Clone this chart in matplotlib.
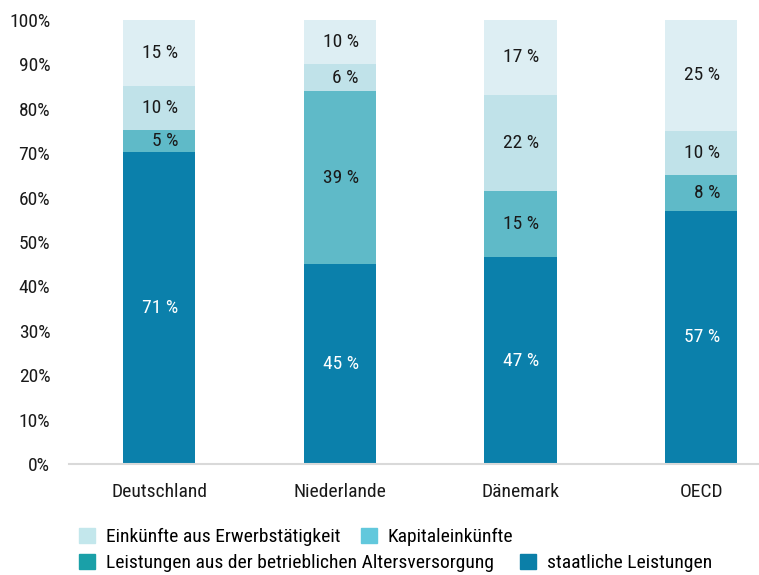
import matplotlib.pyplot as plt
from matplotlib.patches import Patch

plt.rcParams['font.family'] = ['Roboto Condensed', 'DejaVu Sans']

laender = ['Deutschland', 'Niederlande', 'Dänemark', 'OECD']
staatlich = [71, 45, 47, 57]
betrieblich = [5, 39, 15, 8]
kapital = [10, 6, 22, 10]
erwerb = [15, 10, 17, 25]

serien = [staatlich, betrieblich, kapital, erwerb]
bar_farben = ['#0b80ab', '#5fbac8', '#c0e2e9', '#ddeef3']
text_farben = ['white', '#1a1a1a', '#1a1a1a', '#1a1a1a']
fs = 14

fig = plt.figure(figsize=(7.59, 5.75), dpi=100)
ax = fig.add_axes([69 / 759, 1 - 464 / 575, 1 - 69 / 759, (464 - 20) / 575])

x = range(len(laender))
summen = [sum(s[i] for s in serien) for i in x]
unten = [0.0] * len(laender)
for werte, farbe, tf in zip(serien, bar_farben, text_farben):
    hoehe = [w / summen[i] * 100 for i, w in enumerate(werte)]
    ax.bar(x, hoehe, 0.4, bottom=unten, color=farbe, linewidth=0)
    for i, (h, w) in enumerate(zip(hoehe, werte)):
        ax.text(i + 0.105, unten[i] + h / 2, f'{w} %', ha='right', va='center',
                fontsize=fs, color=tf)
    unten = [u + h for u, h in zip(unten, hoehe)]

ax.set_ylim(0, 100)
ax.set_xlim(-0.5, 3.32)
ax.set_yticks(range(0, 101, 10))
ax.set_yticklabels([f'{t}%' for t in range(0, 101, 10)])
ax.set_xticks(list(x))
ax.set_xticklabels(laender)
ax.tick_params(axis='both', length=0, labelsize=fs, colors='#1a1a1a')
ax.tick_params(axis='y', pad=13.5)
ax.tick_params(axis='x', pad=14)
for s in ['top', 'right', 'left']:
    ax.spines[s].set_visible(False)
ax.spines['bottom'].set_color('#d9d9d9')
ax.spines['bottom'].set_linewidth(1.5)

leg_kw = dict(frameon=False, fontsize=fs, handlelength=0.82, handleheight=0.78,
              handletextpad=0.57, ncol=2, loc='center left',
              borderaxespad=0, borderpad=0)
zeile1 = [Patch(color='#c3e7ec', label='Einkünfte aus Erwerbstätigkeit'),
          Patch(color='#62c8dc', label='Kapitaleinkünfte')]
zeile2 = [Patch(color='#1aa0a8', label='Leistungen aus der betrieblichen Altersversorgung'),
          Patch(color='#0b7fa8', label='staatliche Leistungen')]
fig.legend(handles=zeile1, bbox_to_anchor=(79 / 759, 1 - 537 / 575), columnspacing=1.05, **leg_kw)
fig.legend(handles=zeile2, bbox_to_anchor=(79 / 759, 1 - 563 / 575), columnspacing=1.35, **leg_kw)

fig.savefig('out.png', dpi=100)
